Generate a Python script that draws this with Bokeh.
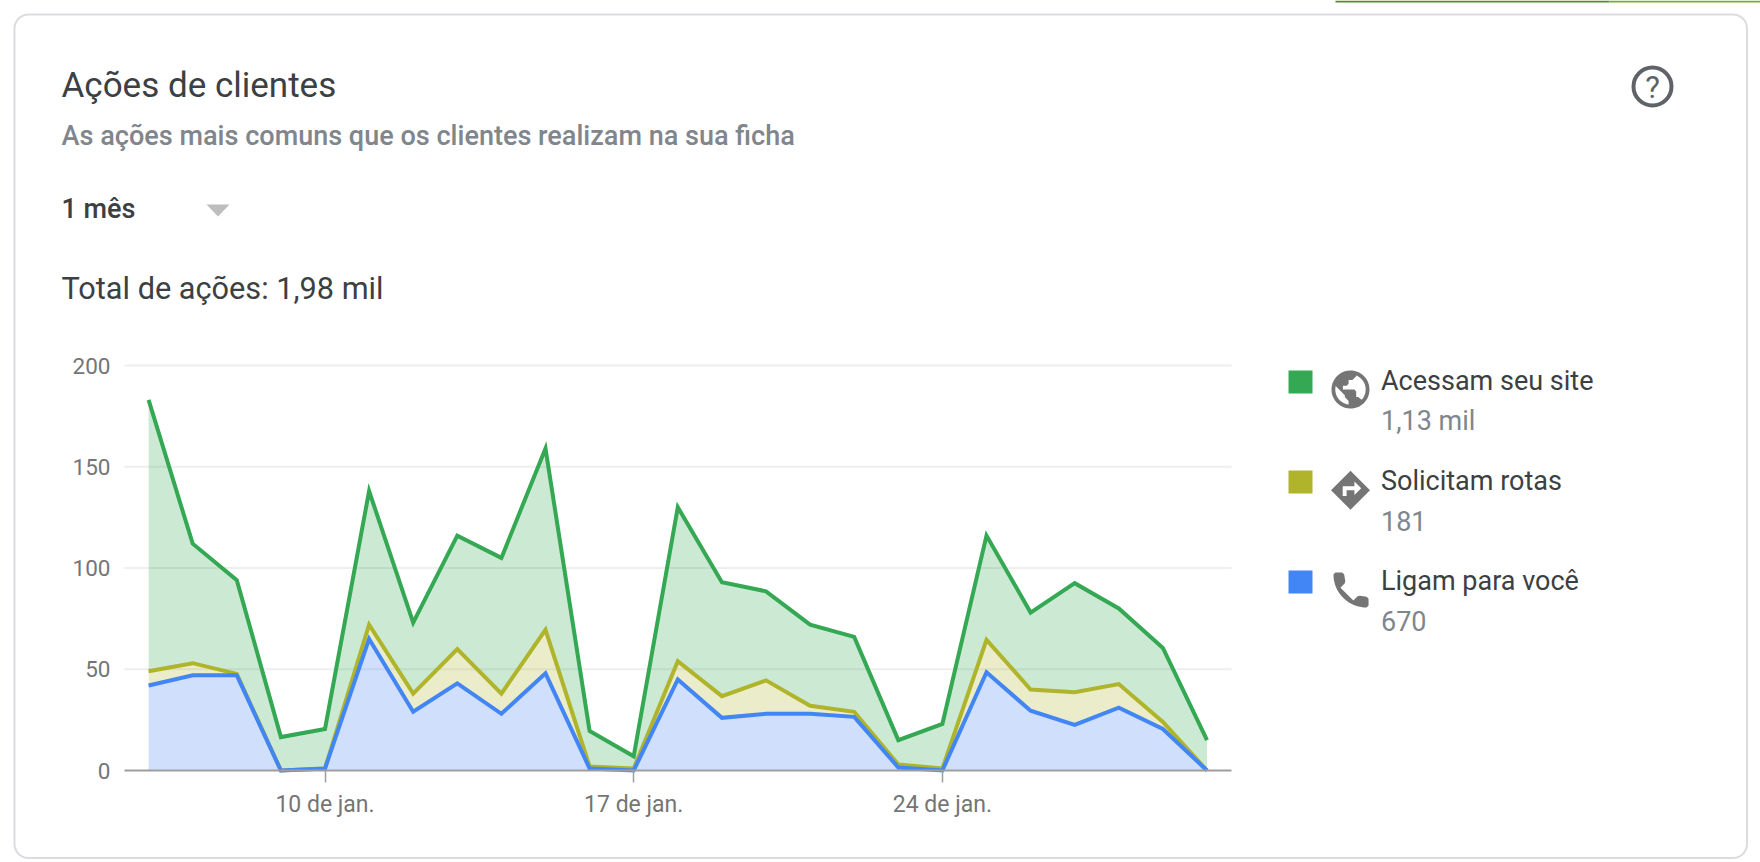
import numpy as np
from bokeh.plotting import figure
from bokeh.models import Range1d, LinearAxis, FixedTicker
from bokeh.core.properties import value
from bokeh.embed import file_html
from bokeh.resources import INLINE

# ---- data -------------------------------------------------------------
days = list(range(6, 31))
ligam = [42, 47, 47, 0, 1, 65, 29, 43, 28, 48, 1, 0, 45, 26, 28, 28, 26.5, 1.5, 0, 48.5, 29.5, 22.5, 31, 20.5, 0]
rotas = [7, 6, 0.7, 0, 0, 7, 9, 17, 10, 21.5, 1, 1, 9, 10.7, 16.5, 4, 2.5, 1.5, 1, 16, 10.5, 16.2, 11.7, 3.5, 0]
site = [134, 59, 46.3, 16.5, 19.5, 66, 35, 56, 67, 89.5, 17.5, 6, 76, 56.3, 44, 40, 37, 12, 22, 51.5, 38, 53.8, 37.3, 36.5, 15]
x_tick_days = [10, 17, 24]
x_tick_labels = ["10 de jan.", "17 de jan.", "24 de jan."]
y_ticks = [0, 50, 100, 150, 200]

title = "Ações de clientes"
subtitle = "As ações mais comuns que os clientes realizam na sua ficha"
period = "1 mês"
total = "Total de ações: 1,98 mil"
legend_names = ["Acessam seu site", "Solicitam rotas", "Ligam para você"]
legend_values = ["1,13 mil", "181", "670"]
colors = ["#34a853", "#afb42b", "#4285f4"]

FONT = value("Roboto")
DARK, GRAY, ICON = "#3c4043", "#80868b", "#757575"

# ---- scales: page pixel -> data -----------------------------------------
PXD = 44.1          # px per day
PXV = 2.025         # px per unit
X10 = 324.5         # page x of 10 Jan
Y0 = 770.0          # page y of value 0
day_at = lambda px: 10 + (px - X10) / PXD
val_at = lambda py: (Y0 - py) / PXV
W, H = 1760, 862

p = figure(width=W, height=H, output_backend="svg", toolbar_location=None,
           x_range=Range1d(day_at(0), day_at(W)),
           y_range=Range1d(val_at(H), val_at(0)),
           x_axis_type=None, y_axis_type=None,
           min_border=0, min_border_left=0, min_border_right=0,
           min_border_top=0, min_border_bottom=0)
p.outline_line_color = None
p.background_fill_color = "white"
p.border_fill_color = "white"
p.extra_x_ranges["px"] = Range1d(0, W)
p.extra_y_ranges["px"] = Range1d(H, 0)
PX = dict(x_range_name="px", y_range_name="px")

# ---- strip of the page above the card ------------------------------------
p.quad(left=[1335, 1609], right=[1609, 1760], top=[0, 0], bottom=[2, 2],
       fill_color=["#558b2f", "#7cab2c"], line_color=None, **PX)

# ---- card ---------------------------------------------------------------
L, T, R, B, r = 14, 14, 1746.5, 857.5, 14
arc = lambda cx, cy, a0, a1: [(cx + r * np.cos(t), cy + r * np.sin(t)) for t in np.linspace(a0, a1, 12)]
pts = arc(L + r, T + r, np.pi, 1.5 * np.pi) + arc(R - r, T + r, 1.5 * np.pi, 2 * np.pi) \
    + arc(R - r, B - r, 0, .5 * np.pi) + arc(L + r, B - r, .5 * np.pi, np.pi)
pts.append(pts[0])
p.line([a for a, _ in pts], [b for _, b in pts], line_color="#dadce0", line_width=2, **PX)

# ---- grid: horizontal rules limited to the plot span ---------------------
gx0, gx1 = day_at(124), day_at(1231)
p.segment([gx0] * 4, y_ticks[1:], [gx1] * 4, y_ticks[1:], line_color="#eeeeee", line_width=2)

# ---- stacked areas --------------------------------------------------------
xs = np.array(days, dtype=float)
s1 = np.array(ligam, dtype=float)
s2 = s1 + np.array(rotas, dtype=float)
s3 = s2 + np.array(site, dtype=float)
p.varea(xs, s2, s3, fill_color=colors[0], fill_alpha=0.25)
p.varea(xs, s1, s2, fill_color=colors[1], fill_alpha=0.25)
p.varea(xs, 0 * s1, s1, fill_color=colors[2], fill_alpha=0.25)

# ---- axes -----------------------------------------------------------------
xa = LinearAxis(ticker=FixedTicker(ticks=x_tick_days), fixed_location=0, bounds=(gx0, gx1),
                major_label_overrides=dict(zip(x_tick_days, x_tick_labels)),
                axis_line_color="#9e9e9e", axis_line_width=2,
                major_tick_line_color="#9e9e9e", major_tick_line_width=1.5,
                major_tick_out=12, major_tick_in=0, minor_tick_out=0, minor_tick_in=0,
                major_label_text_font="Roboto", major_label_text_font_size="23px",
                major_label_text_color=ICON, major_label_standoff=8)
p.add_layout(xa, "below")
ya = LinearAxis(ticker=FixedTicker(ticks=y_ticks), fixed_location=gx0, bounds=(0, 200),
                axis_line_color=None, major_tick_line_color=None,
                minor_tick_out=0, minor_tick_in=0,
                major_label_text_font="Roboto", major_label_text_font_size="22.5px",
                major_label_text_color=ICON, major_label_standoff=8)
p.add_layout(ya, "left")

# ---- lines ----------------------------------------------------------------
for ys, c in ((s3, colors[0]), (s2, colors[1]), (s1, colors[2])):
    p.line(xs, ys, line_color=c, line_width=4, line_join="miter")


# ---- header texts -----------------------------------------------------------
def text(x, y, s, size, color, weight="normal", align="left", font=FONT):
    p.text([x], [y], text=[s], text_font=font, text_font_size=f"{size}px", text_color=color,
           text_font_style=weight, text_align=align, text_baseline="middle", **PX)


MEDIUM = value("Roboto Medium")
text(61, 85, title, 35, DARK)
text(61, 135, subtitle, 27, GRAY, "normal", font=MEDIUM)
text(61, 208, period, 27, DARK, "normal", font=MEDIUM)
p.patch([206, 229, 217.5], [204, 204, 216], fill_color="#bdbdbd", line_color=None, **PX)
text(61, 288, total, 30.7, DARK)

# help icon
p.scatter([1652], [86], size=38, fill_color=None, line_color="#5f6368", line_width=4, **PX)
text(1652, 87, "?", 31, "#5f6368", "normal", "center")


# ---- legend ---------------------------------------------------------------
def icon(cx, cy, k, points, fill):
    a = np.array(points, dtype=float)
    p.patch(cx + (a[:, 0] - 12) * k, cy + (a[:, 1] - 12) * k, fill_color=fill, line_color=None, **PX)


def circ(cx, cy, rad, t0, t1, n=14):
    t = np.linspace(t0, t1, n)
    return list(zip(cx + rad * np.cos(t), cy + rad * np.sin(t)))


rows_y = [381.5, 481.5, 581.5]
for i, y in enumerate(rows_y):
    p.quad(left=[1288], right=[1312], top=[y - 11.5], bottom=[y + 11.5],
           fill_color=colors[i], line_color=None, **PX)
    text(1380.5, y - 1.5, legend_names[i], 27, DARK)
    text(1380.5, y + 38.5, legend_values[i], 27, GRAY)

# globe
icon(1350, 389, 1.9, circ(12, 12, 10, 0, 2 * np.pi, 48), ICON)
a_left = np.arctan2(7.93, -1)
a_end = np.arctan2(-1.79, -7.79) + 2 * np.pi
icon(1350, 389, 1.9, [(9, 15), (9, 16), (11, 18)] + circ(12, 12, 8, a_left, a_end), "white")
icon(1350, 389, 1.9, [(16, 16), (15, 16), (15, 13), (14, 12), (8, 12), (8, 10), (10, 10), (11, 9), (11, 7),
                      (13, 7), (15, 5), (15, 4.59)] + circ(12, 12, 8, np.arctan2(-7.41, 3), np.arctan2(5.39, 5.9)),
     "white")
# diamond with arrow
icon(1350, 489.7, 1.95, [(12, 2), (22, 12), (12, 22), (2, 12)], ICON)
icon(1350, 489.7, 1.95, [(14, 14.5), (14, 12), (10, 12), (10, 15), (8, 15), (8, 10), (14, 10), (14, 7.5),
                         (17.5, 11)], "white")
# phone
icon(1350.5, 589.5, 1.95, [(6.62, 10.79), (13.21, 17.38), (15.41, 15.18), (16.43, 14.94), (20, 15.51), (21, 16.51),
                           (21, 20), (20, 21)] + circ(20, 4, 17, .5 * np.pi, np.pi, 20)
     + [(4, 3), (7.5, 3), (8.5, 4), (9.07, 7.57), (8.82, 8.59)], ICON)

open("out.html", "w").write(file_html(p, INLINE))
